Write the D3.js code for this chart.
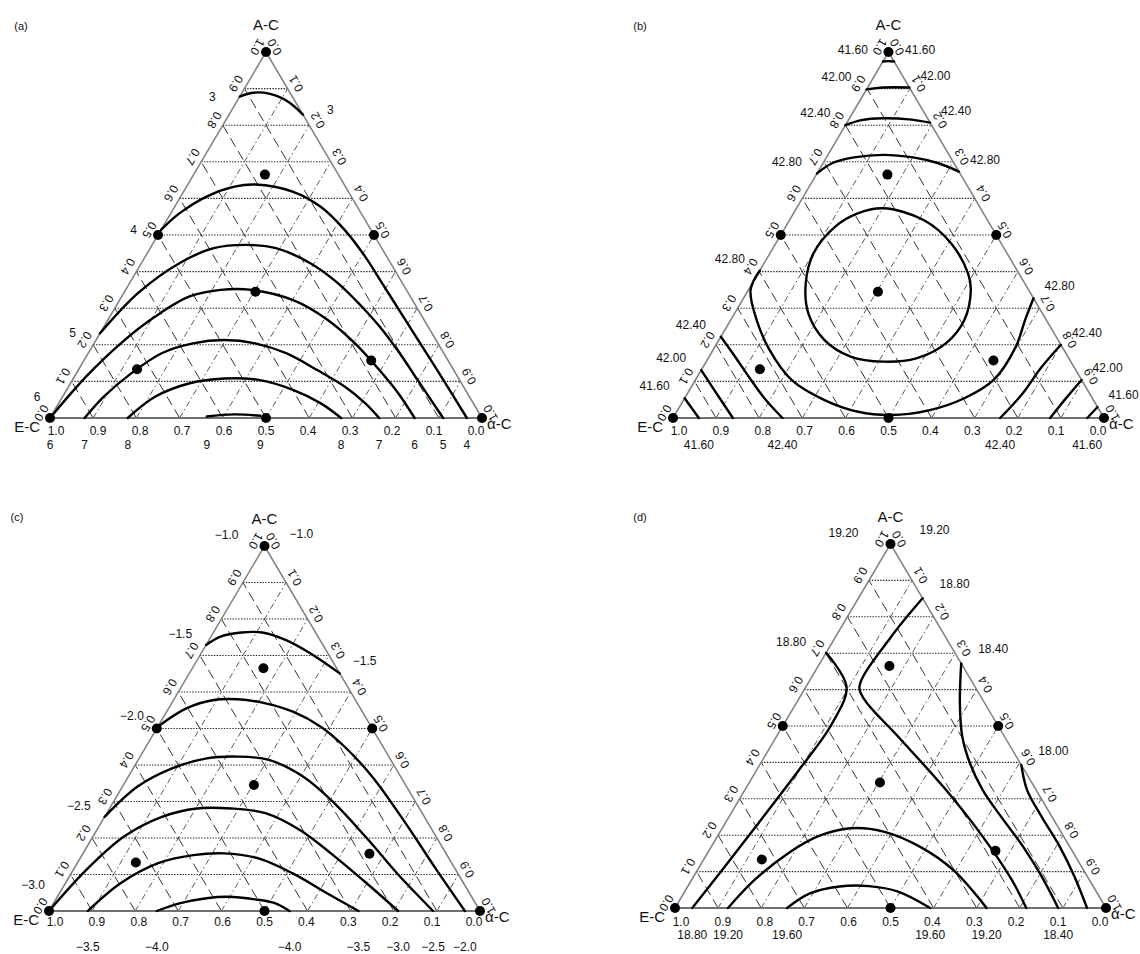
<!DOCTYPE html>
<html>
<head>
<meta charset="utf-8">
<script src="https://cdnjs.cloudflare.com/ajax/libs/d3/7.8.5/d3.min.js"></script>
<style>
  body { margin: 0; background: #fff; }
  svg text { font-family: "Liberation Sans", Arial, sans-serif; fill: #111; }
</style>
</head>
<body>
<div id="chart"></div>
<script>
// ---- data ----
const panelNames = ['(a)', '(b)', '(c)', '(d)'];
const vertexNames = ['A-C', 'E-C', 'α-C'];
const gridLevels = [0.1, 0.2, 0.3, 0.4, 0.5, 0.6, 0.7, 0.8, 0.9];
const tickValues = [0, 0.1, 0.2, 0.3, 0.4, 0.5, 0.6, 0.7, 0.8, 0.9, 1];
const tickLabels = ['0.0', '0.1', '0.2', '0.3', '0.4', '0.5', '0.6', '0.7', '0.8', '0.9', '1.0'];

// design points as [E-C, A-C] fractions (α-C = 1 - E - A)
const designPoints = [
  [0, 1], [1, 0], [0, 0], [0.5, 0], [0.5, 0.5], [0, 0.5],
  [0.17, 0.665], [0.352, 0.345], [0.732, 0.133], [0.178, 0.157]
];

// contour lines, points as [E-C, A-C]; tags = label sides at start / end
const contoursA = [
  {level: '3', tags: [['left'], ['right']],
   pts: [[0.122,0.878],[0.090,0.888],[0.061,0.889],[0.035,0.880],[0.015,0.862],[0,0.829]]},
  {level: '4', tags: [['left'], ['below']],
   pts: [[0.486,0.514],[0.421,0.559],[0.335,0.605],[0.257,0.632],[0.206,0.638],[0.128,0.618],[0.085,0.577],
         [0.061,0.514],[0.050,0.441],[0.047,0.368],[0.044,0.286],[0.041,0.204],[0.038,0.122],[0.035,0]]},
  {level: '5', tags: [['left'], ['below']],
   pts: [[0.769,0.231],[0.626,0.341],[0.489,0.423],[0.389,0.464],[0.309,0.473],[0.245,0.464],[0.186,0.423],
         [0.149,0.368],[0.126,0.304],[0.110,0.240],[0.102,0.177],[0.097,0.104],[0.090,0]]},
  {level: '6', tags: [['corner', 'below'], ['below']],
   pts: [[1,0],[0.860,0.113],[0.734,0.204],[0.618,0.277],[0.511,0.332],[0.430,0.350],[0.358,0.350],
         [0.276,0.322],[0.223,0.268],[0.192,0.204],[0.172,0.131],[0.160,0.067],[0.156,0]]},
  {level: '7', tags: [['below'], ['below']],
   pts: [[0.920,0],[0.847,0.058],[0.751,0.122],[0.653,0.177],[0.567,0.204],[0.490,0.213],[0.423,0.204],
         [0.365,0.177],[0.316,0.131],[0.275,0.086],[0.250,0.040],[0.238,0]]},
  {level: '8', tags: [['below'], ['below']],
   pts: [[0.820,0],[0.728,0.058],[0.629,0.095],[0.543,0.108],[0.465,0.104],[0.399,0.077],[0.353,0.040],[0.326,0]]},
  {level: '9', tags: [['below'], ['below']],
   pts: [[0.635,0.004],[0.57,0.01],[0.51,0.006]]}
];

const contoursB = [
  {level: '41.60', tags: [['left'], ['right']], pts: [[0.026,0.974],[0.013,0.975],[0,0.974]]},
  {level: '42.00', tags: [['left'], ['right']], pts: [[0.102,0.898],[0.06,0.903],[0,0.903]]},
  {level: '42.40', tags: [['left'], ['right']],
   pts: [[0.20,0.80],[0.156,0.814],[0.103,0.819],[0.044,0.816],[0,0.807]]},
  {level: '42.80', tags: [['left'], ['right']],
   pts: [[0.332,0.668],[0.283,0.696],[0.224,0.712],[0.153,0.719],[0.087,0.712],[0.036,0.696],[0,0.673]]},
  {level: '42.80', tags: [['left'], ['right']],
   pts: [[0.597,0.403],[0.645,0.350],[0.672,0.268],[0.683,0.186],[0.673,0.104],[0.624,0.049],[0.562,0.017],
         [0.491,0.008],[0.399,0.020],[0.297,0.054],[0.204,0.104],[0.107,0.195],[0.049,0.268],[0,0.327]]},
  {level: '43.20', tags: [[], []], closed: true,
   pts: [[0.226,0.573],[0.148,0.541],[0.116,0.477],[0.118,0.395],[0.134,0.350],[0.190,0.268],[0.265,0.204],
         [0.354,0.163],[0.435,0.154],[0.504,0.168],[0.542,0.213],[0.543,0.286],[0.508,0.368],[0.449,0.450],
         [0.362,0.523],[0.292,0.559]]},
  {level: '42.40', tags: [['left'], ['below']], pts: [[0.778,0.222],[0.773,0.177],[0.767,0.104],[0.760,0.049],[0.746,0]]},
  {level: '42.00', tags: [['left'], []], pts: [[0.869,0.131],[0.866,0.077],[0.861,0]]},
  {level: '41.60', tags: [['left'], ['below']], pts: [[0.946,0.054],[0.94,0]]},
  {level: '42.40', tags: [['below'], ['right']], pts: [[0.241,0],[0.154,0.068],[0.08,0.135],[0,0.2]]},
  {level: '42.00', tags: [[], ['right']], pts: [[0.125,0],[0.06,0.055],[0,0.104]]},
  {level: '41.60', tags: [['below'], ['right']], pts: [[0.039,0],[0,0.03]]}
];

const contoursC = [
  {level: '\u22121.0', tags: [['left', 'right'], []], pts: [[0,1]]},
  {level: '\u22121.5', tags: [['left'], ['right']],
   pts: [[0.271,0.729],[0.226,0.752],[0.172,0.763],[0.124,0.763],[0.079,0.742],[0.041,0.706],[0,0.651]]},
  {level: '\u22122.0', tags: [['left'], ['below']],
   pts: [[0.495,0.505],[0.404,0.555],[0.329,0.578],[0.272,0.580],[0.213,0.569],[0.161,0.546],[0.117,0.505],
         [0.089,0.450],[0.066,0.368],[0.053,0.249],[0.045,0.121],[0.035,0]]},
  {level: '\u22122.5', tags: [['left'], ['below']],
   pts: [[0.742,0.258],[0.624,0.341],[0.519,0.391],[0.425,0.418],[0.351,0.423],[0.283,0.414],[0.226,0.368],
         [0.190,0.295],[0.164,0.204],[0.140,0.100],[0.125,0.050],[0.109,0]]},
  {level: '\u22123.0', tags: [['corner'], ['below']],
   pts: [[1,0],[0.858,0.112],[0.724,0.204],[0.609,0.258],[0.517,0.281],[0.437,0.281],[0.364,0.268],
         [0.307,0.222],[0.267,0.158],[0.225,0.076],[0.19,0]]},
  {level: '\u22123.5', tags: [['below'], ['below']],
   pts: [[0.91,0],[0.796,0.076],[0.681,0.131],[0.589,0.153],[0.515,0.158],[0.442,0.144],[0.383,0.103],[0.330,0.048],[0.282,0]]},
  {level: '\u22124.0', tags: [['below'], ['below']],
   pts: [[0.75,0],[0.687,0.021],[0.617,0.035],[0.566,0.039],[0.506,0.032],[0.464,0.021],[0.442,0]]}
];

const contoursD = [
  {level: '19.20', tags: [['left', 'right'], []], pts: [[0,1]]},
  {level: '18.80', tags: [['below'], ['left']],
   pts: [[0.96,0],[0.839,0.104],[0.690,0.233],[0.523,0.379],[0.382,0.507],[0.298,0.608],[0.299,0.701]]},
  {level: '18.80', tags: [[], ['right']],
   pts: [[0.185,0],[0.180,0.077],[0.188,0.196],[0.209,0.324],[0.247,0.471],[0.274,0.571],[0.268,0.608],
         [0.126,0.745],[0,0.851]]},
  {level: '18.40', tags: [['right'], ['below']],
   pts: [[0,0.672],[0.058,0.562],[0.098,0.471],[0.117,0.397],[0.124,0.324],[0.118,0.251],[0.108,0.168],[0.106,0.086],[0.111,0]]},
  {level: '18.00', tags: [['right'], []],
   pts: [[0,0.393],[0.021,0.324],[0.024,0.251],[0.023,0.168],[0.030,0.086],[0.044,0]]},
  {level: '19.20', tags: [['below'], ['below']],
   pts: [[0.877,0],[0.777,0.077],[0.663,0.150],[0.572,0.196],[0.484,0.219],[0.411,0.210],[0.347,0.168],[0.302,0.104],[0.277,0]]},
  {level: '19.60', tags: [['below'], ['below']],
   pts: [[0.74,0],[0.667,0.040],[0.589,0.059],[0.520,0.060],[0.460,0.045],[0.408,0]]}
];

class TernaryPanel {
  constructor(_config, _contours) {
    this.config = {
      parent: _config.parent,
      name: _config.name,
      nameAt: _config.nameAt,
      left: _config.left,
      right: _config.right,
      base: _config.base,
      top: _config.top,
      tickY: _config.tickY || 14,
      belowY: _config.belowY || 27,
      leftLab: _config.leftLab || {dx: 15, dy: 12},
      rightLab: _config.rightLab || {dx: 14, dy: 10},
      corner: _config.corner || {dx: -14, dy: -22},
      apexPad: _config.apexPad || 0
    };
    this.contours = _contours;
    this.initVis();
  }

  initVis() {
    let vis = this;
    const c = vis.config;

    // horizontal position across the base and height (A-C fraction)
    vis.x = d3.scaleLinear().domain([0, 1]).range([c.left, c.right]);
    vis.y = d3.scaleLinear().domain([0, 1]).range([c.base, c.top]);
    vis.pos = (E, A) => [vis.x(1 - E - A / 2), vis.y(A)];
    vis.apexX = vis.x(0.5);

    vis.g = d3.select(c.parent).append('g');

    // grid: constant A (dotted), constant E (long dash), constant α (dash-dot)
    const grid = vis.g.append('g');
    grid.selectAll('.gA').data(gridLevels).join('line')
        .attr('x1', v => vis.pos(1 - v, v)[0]).attr('y1', v => vis.pos(1 - v, v)[1])
        .attr('x2', v => vis.pos(0, v)[0]).attr('y2', v => vis.pos(0, v)[1])
        .attr('stroke', '#222').attr('stroke-width', 1.1).attr('stroke-dasharray', '1.4,1.4');
    grid.selectAll('.gE').data(gridLevels).join('line')
        .attr('x1', v => vis.pos(v, 0)[0]).attr('y1', v => vis.pos(v, 0)[1])
        .attr('x2', v => vis.pos(v, 1 - v)[0]).attr('y2', v => vis.pos(v, 1 - v)[1])
        .attr('stroke', '#333').attr('stroke-width', 1).attr('stroke-dasharray', '10,5');
    grid.selectAll('.gAl').data(gridLevels).join('line')
        .attr('x1', v => vis.pos(1 - v, 0)[0]).attr('y1', v => vis.pos(1 - v, 0)[1])
        .attr('x2', v => vis.pos(0, 1 - v)[0]).attr('y2', v => vis.pos(0, 1 - v)[1])
        .attr('stroke', '#444').attr('stroke-width', 0.9).attr('stroke-dasharray', '6,3,1.5,3');

    // triangle edges
    vis.g.append('path')
        .attr('d', d3.line()([vis.pos(1, 0), vis.pos(0, 1), vis.pos(0, 0)]))
        .attr('fill', 'none').attr('stroke', '#808080').attr('stroke-width', 1.5);
    vis.g.append('path')
        .attr('d', d3.line()([vis.pos(1, 0), vis.pos(0, 0)]))
        .attr('fill', 'none').attr('stroke', '#707070').attr('stroke-width', 2.2);

    // contours
    const line = d3.line()
        .x(d => vis.pos(d[0], d[1])[0])
        .y(d => vis.pos(d[0], d[1])[1])
        .curve(d3.curveCatmullRom.alpha(0.5));
    const closedLine = d3.line()
        .x(d => vis.pos(d[0], d[1])[0])
        .y(d => vis.pos(d[0], d[1])[1])
        .curve(d3.curveCatmullRomClosed.alpha(0.5));
    vis.g.append('g').selectAll('path')
        .data(vis.contours.filter(d => d.pts.length > 1))
        .join('path')
        .attr('d', d => d.closed ? closedLine(d.pts) : line(d.pts))
        .attr('fill', 'none').attr('stroke', '#000').attr('stroke-width', 2.4)
        .attr('stroke-linecap', 'round');

    // design points
    vis.g.append('g').selectAll('circle').data(designPoints).join('circle')
        .attr('cx', d => vis.pos(d[0], d[1])[0])
        .attr('cy', d => vis.pos(d[0], d[1])[1])
        .attr('r', 5).attr('fill', '#000');

    vis.addAxes();
    vis.addContourLabels();
  }

  addAxes() {
    let vis = this;
    const c = vis.config;
    const nL = [-0.86, -0.51], nR = [0.86, -0.51], off = 10;

    // bottom: E-C fraction, 1.0 at E-C corner
    const labX = d3.scaleLinear().domain([1, 0]).range([c.left + 6, c.right - 6]);
    vis.g.selectAll('.tb').data(tickValues).join('text')
        .attr('x', v => labX(v)).attr('y', c.base + c.tickY)
        .attr('text-anchor', 'middle').attr('dominant-baseline', 'central')
        .style('font-size', '12px')
        .text((v, i) => tickLabels[i]);

    // left edge: A-C fraction
    vis.g.selectAll('.tl').data(tickValues).join('text')
        .attr('transform', v => {
          const p = vis.pos(1 - v, v);
          return `translate(${p[0] + nL[0] * off},${p[1] + nL[1] * off}) rotate(120)`;
        })
        .attr('text-anchor', 'middle').attr('dominant-baseline', 'central')
        .style('font-size', '12px')
        .text((v, i) => tickLabels[i]);

    // right edge: α-C fraction
    vis.g.selectAll('.tr').data(tickValues).join('text')
        .attr('transform', v => {
          const p = vis.pos(0, 1 - v);
          return `translate(${p[0] + nR[0] * off},${p[1] + nR[1] * off}) rotate(-120)`;
        })
        .attr('text-anchor', 'middle').attr('dominant-baseline', 'central')
        .style('font-size', '12px')
        .text((v, i) => tickLabels[i]);

    // vertex names and panel name
    vis.g.append('text').attr('x', vis.apexX).attr('y', c.top - 28)
        .attr('text-anchor', 'middle').attr('dominant-baseline', 'central')
        .style('font-size', '15px').text(vertexNames[0]);
    vis.g.append('text').attr('x', c.left - 10).attr('y', c.base + 8)
        .attr('text-anchor', 'end').attr('dominant-baseline', 'central')
        .style('font-size', '15px').text(vertexNames[1]);
    vis.g.append('text').attr('x', c.right + 5).attr('y', c.base + 5)
        .attr('text-anchor', 'start').attr('dominant-baseline', 'central')
        .style('font-size', '15px').text(vertexNames[2]);
    vis.g.append('text').attr('x', c.nameAt[0]).attr('y', c.nameAt[1])
        .attr('text-anchor', 'middle').attr('dominant-baseline', 'central')
        .style('font-size', '11px').text(c.name);
  }

  addContourLabels() {
    let vis = this;
    const c = vis.config;
    const labels = [];
    vis.contours.forEach(d => {
      [0, 1].forEach(k => {
        const pt = k === 0 ? d.pts[0] : d.pts[d.pts.length - 1];
        d.tags[k].forEach(side => labels.push({text: d.level, pt: pt, side: side}));
      });
    });

    vis.g.append('g').selectAll('text').data(labels).join('text')
        .each(function(d) {
          const p = vis.pos(d.pt[0], d.pt[1]);
          const pad = d.pt[1] > 0.99 ? c.apexPad : 0;
          let x, y, anchor;
          if (d.side === 'left') { x = p[0] - c.leftLab.dx - pad; y = p[1] - c.leftLab.dy; anchor = 'end'; }
          else if (d.side === 'right') { x = p[0] + c.rightLab.dx + pad; y = p[1] - c.rightLab.dy; anchor = 'start'; }
          else if (d.side === 'corner') { x = p[0] + c.corner.dx; y = p[1] + c.corner.dy; anchor = 'middle'; }
          else { x = p[0]; y = c.base + c.belowY; anchor = 'middle'; }
          d3.select(this).attr('x', x).attr('y', y).attr('text-anchor', anchor);
        })
        .attr('dominant-baseline', 'central')
        .style('font-size', '12px')
        .text(d => d.text);
  }
}

const svg = d3.select('#chart').append('svg')
    .attr('width', 1140).attr('height', 954);
svg.append('rect').attr('width', 1140).attr('height', 954).attr('fill', '#fff');

new TernaryPanel({parent: svg.node(), name: panelNames[0], nameAt: [21, 26],
  left: 50, right: 482, base: 418, top: 52, tickY: 13, belowY: 27,
  leftLab: {dx: 24, dy: 0}, rightLab: {dx: 24, dy: 5}, corner: {dx: -13, dy: -21}}, contoursA);

new TernaryPanel({parent: svg.node(), name: panelNames[1], nameAt: [640, 26],
  left: 673, right: 1104, base: 418, top: 52, tickY: 13, belowY: 27,
  leftLab: {dx: 15, dy: 12}, rightLab: {dx: 11, dy: 12}}, contoursB);

new TernaryPanel({parent: svg.node(), name: panelNames[2], nameAt: [17, 517],
  left: 49, right: 480, base: 911, top: 546, tickY: 11, belowY: 36,
  leftLab: {dx: 14, dy: 11}, rightLab: {dx: 13, dy: 12}, corner: {dx: -16, dy: -26}, apexPad: 12}, contoursC);

new TernaryPanel({parent: svg.node(), name: panelNames[3], nameAt: [640, 517],
  left: 675, right: 1106, base: 908, top: 544, tickY: 14, belowY: 27,
  leftLab: {dx: 20, dy: 11}, rightLab: {dx: 17, dy: 14}, apexPad: 12}, contoursD);
</script>
</body>
</html>
